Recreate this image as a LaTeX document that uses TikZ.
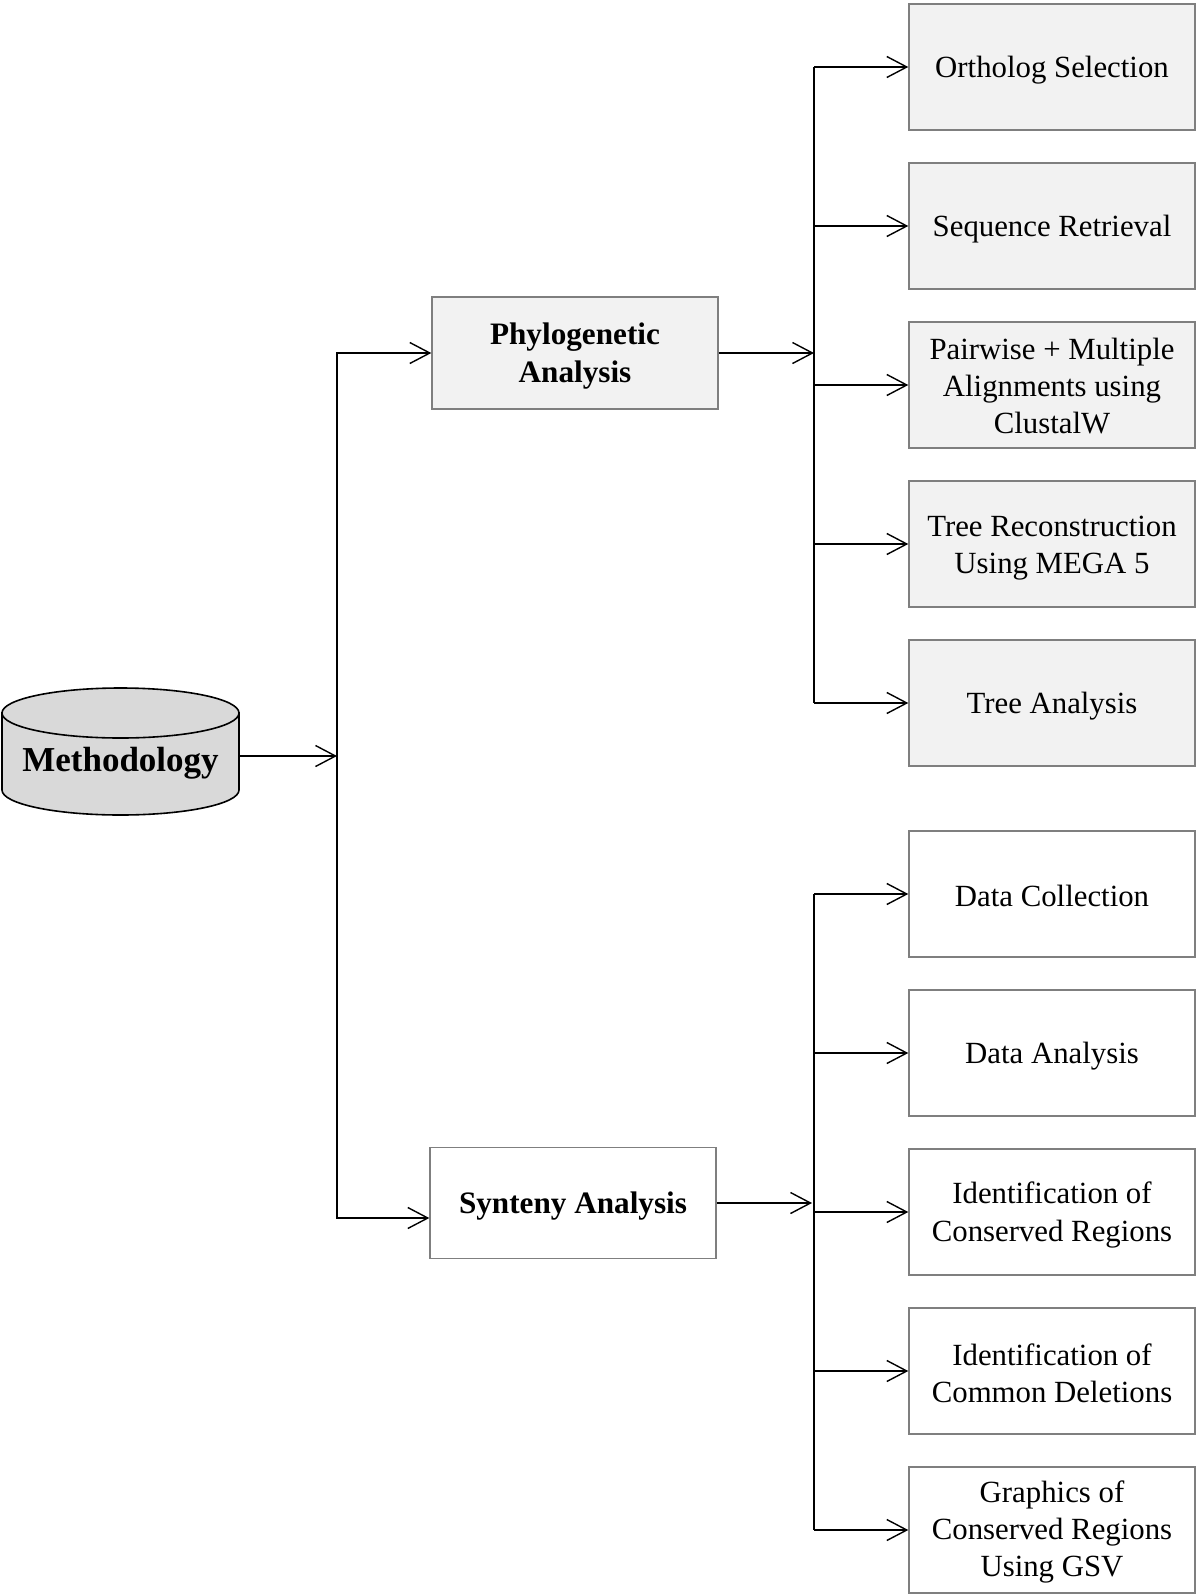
\documentclass[tikz,border=0pt]{standalone}
\usepackage{fontspec}
\setmainfont{Liberation Serif}
\usetikzlibrary{arrows.meta,calc}
\definecolor{boxgray}{HTML}{F2F2F2}
\definecolor{edgegray}{HTML}{7F7F7F}
\definecolor{cylgray}{HTML}{D9D9D9}
\begin{document}
\begin{tikzpicture}[x=0.5pt,y=-0.5pt,
  txt/.style={font=\fontsize{15.4}{18.6}\selectfont, align=center, inner sep=0pt},
  bold/.style={font=\fontsize{15.6}{18.8}\selectfont\bfseries, align=center, inner sep=0pt},
  stepbox/.style={draw=edgegray, line width=0.7pt, minimum width=143pt, minimum height=63pt, inner sep=0pt},
  phylobox/.style={stepbox, fill=boxgray},
  syntbox/.style={stepbox, fill=white},
  arr/.style={line width=0.7pt, -{Straight Barb[length=10pt,width=10.5pt,line width=0.7pt]}},
  conn/.style={line width=0.7pt}]
\useasboundingbox (0,0) rectangle (1200,1596);
% cylinder
\filldraw[fill=cylgray, draw=black, line width=0.8pt]
  (2,713) -- (2,790) arc[start angle=180,end angle=0,x radius=118.5,y radius=25] -- (239,713) -- cycle;
\filldraw[fill=cylgray, draw=black, line width=0.8pt] (120.5,713) ellipse[x radius=118.5, y radius=25];
\node[minimum width=118.5pt, minimum height=20pt, inner sep=0pt] (meth) at (120.5,756) {};
\node[font=\fontsize{17.5}{21}\selectfont\bfseries, inner sep=0pt] (metht) at (120.5,763) {Methodology};
% level 1
\node[phylobox, minimum height=56pt] (phylo) at (575,353) {};
\node[bold] (phylot) at (575,356) {Phylogenetic\\Analysis};
\node[syntbox, minimum height=55.5pt] (synt) at (573,1203) {};
\node[bold] (syntt) at (573,1206) {Synteny Analysis};
% upper boxes
\node[phylobox] (o1) at (1052,67) {};
\node[phylobox] (o2) at (1052,226) {};
\node[phylobox] (o3) at (1052,385) {};
\node[phylobox] (o4) at (1052,544) {};
\node[phylobox] (o5) at (1052,703) {};
\node[txt] (o1t) at (1052,70) {Ortholog Selection};
\node[txt] (o2t) at (1052,229) {Sequence Retrieval};
\node[txt] (o3t) at (1052,386) {Pairwise + Multiple\\Alignments using\\ClustalW};
\node[txt] (o4t) at (1052,548) {Tree Reconstruction\\Using MEGA 5};
\node[txt] (o5t) at (1052,706) {Tree Analysis};
% lower boxes
\node[syntbox] (s1) at (1052,894) {};
\node[syntbox] (s2) at (1052,1053) {};
\node[syntbox] (s3) at (1052,1212) {};
\node[syntbox] (s4) at (1052,1371) {};
\node[syntbox] (s5) at (1052,1530) {};
\node[txt] (s1t) at (1052,896) {Data Collection};
\node[txt] (s2t) at (1052,1056) {Data Analysis};
\node[txt] (s3t) at (1052,1215) {Identification of\\Conserved Regions};
\node[txt] (s4t) at (1052,1373) {Identification of\\Common Deletions};
\node[txt] (s5t) at (1052,1532) {Graphics of\\Conserved Regions\\Using GSV};
% junctions
\coordinate (j0) at (337,756);
\coordinate (j1) at (814,353);
\coordinate (j2) at (814,1203);
% connectors from Methodology
\draw[arr] (meth.east) -- (j0);
\draw[arr] (j0) |- (phylo.west);
\draw[arr] (j0) |- ($(synt.west)+(0,15)$);
% phylogenetic branch
\draw[arr] (phylo.east) -- (j1);
\draw[conn] (j1 |- o1.west) -- (j1 |- o5.west);
\foreach \n in {o1,o2,o3,o4,o5} \draw[arr] (j1 |- \n.west) -- (\n.west);
% synteny branch
\draw[arr] (synt.east) -- ($(j2)+(-2,0)$);
\draw[conn] (j2 |- s1.west) -- (j2 |- s5.west);
\foreach \n in {s1,s2,s3,s4,s5} \draw[arr] (j2 |- \n.west) -- (\n.west);
\end{tikzpicture}
\end{document}
